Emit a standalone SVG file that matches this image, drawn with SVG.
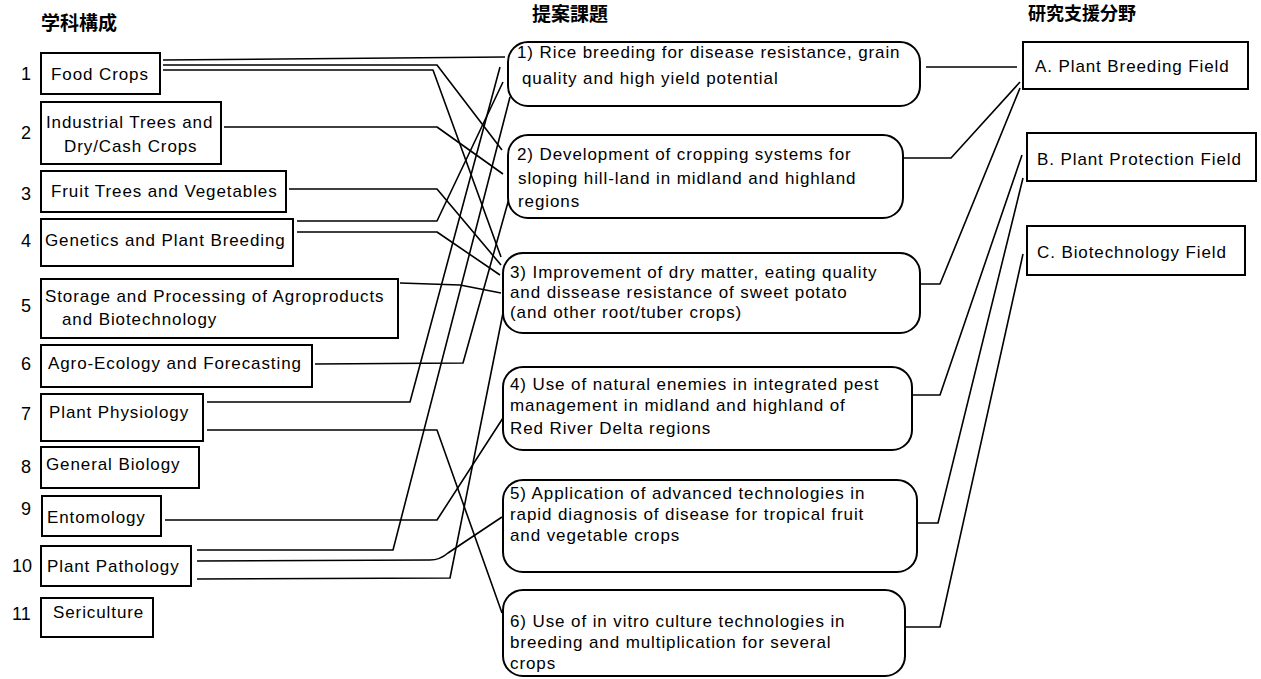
<svg xmlns="http://www.w3.org/2000/svg" width="1261" height="679" viewBox="0 0 1261 679">
<style>
.bg{fill:#fff}
.box{fill:#fff;stroke:#000;stroke-width:2}
.rbox{fill:#fff;stroke:#000;stroke-width:2}
.t{font-family:"Liberation Sans",Arial,sans-serif;font-size:17px;letter-spacing:0.9px;fill:#000}
.n{font-family:"Liberation Sans",Arial,sans-serif;font-size:18px;fill:#000}
.h{font-family:"Noto Sans CJK JP","Noto Sans CJK SC",sans-serif;font-size:19px;font-weight:bold;fill:#000}
.c{fill:none;stroke:#000;stroke-width:1.6;stroke-linejoin:round}
</style>
<rect class="bg" x="0" y="0" width="1261" height="679"/>

<g id="headers">
<text class="h" x="41" y="30">学科構成</text>
<text class="h" x="532" y="21">提案課題</text>
<text class="h" x="1028" y="20" style="font-size:18px">研究支援分野</text>
</g>

<g id="connectors">
<!-- left to middle -->
<polyline class="c" points="163,60 505,57"/>
<polyline class="c" points="163,65 437,65 502,150"/>
<polyline class="c" points="163,70 433,70 501,257"/>
<polyline class="c" points="224,127 437,127 503,174"/>
<polyline class="c" points="289,189 437,189 501,265"/>
<polyline class="c" points="297,221 437,221 503,82"/>
<polyline class="c" points="297,232 437,232 500,275"/>
<polyline class="c" points="400,283 460,285 501,293"/>
<polyline class="c" points="315,364 463,363 510,195"/>
<polyline class="c" points="207,402 410,402 500,67"/>
<polyline class="c" points="207,430 437,430 502,613"/>
<polyline class="c" points="165,520 437,520 503,418"/>
<polyline class="c" points="197,550 393,550 510,97"/>
<path class="c" d="M197,561 L430,560 Q440,560 448,553 L502,517"/>
<polyline class="c" points="197,579 450,578 503,313"/>
<!-- middle to right -->
<polyline class="c" points="926,67 1017,67"/>
<polyline class="c" points="904,158 951,158 1020,82"/>
<polyline class="c" points="921,284 940,284 1020,88"/>
<polyline class="c" points="913,395 940,395 1022,155"/>
<polyline class="c" points="918,523 938,523 1023,178"/>
<polyline class="c" points="906,627 940,627 1023,254"/>
</g>

<g id="d1"><text class="n" x="21" y="80">1</text><rect class="box" x="41" y="53" width="119" height="41"/><text class="t" x="51" y="80">Food Crops</text></g>
<g id="d2"><text class="n" x="21" y="139">2</text><rect class="box" x="41" y="102" width="180" height="62"/><text class="t" x="46" y="128">Industrial Trees and</text><text class="t" x="64" y="152">Dry/Cash Crops</text></g>
<g id="d3"><text class="n" x="21" y="200">3</text><rect class="box" x="41" y="171" width="245" height="41"/><text class="t" x="51" y="197">Fruit Trees and Vegetables</text></g>
<g id="d4"><text class="n" x="21" y="247">4</text><rect class="box" x="41" y="219" width="252" height="47"/><text class="t" x="45" y="246">Genetics and Plant Breeding</text></g>
<g id="d5"><text class="n" x="21" y="312">5</text><rect class="box" x="41" y="279" width="357" height="59"/><text class="t" x="45" y="302">Storage and Processing of Agroproducts</text><text class="t" x="62" y="325">and Biotechnology</text></g>
<g id="d6"><text class="n" x="21" y="370">6</text><rect class="box" x="41" y="345" width="271" height="42"/><text class="t" x="48" y="369">Agro-Ecology and Forecasting</text></g>
<g id="d7"><text class="n" x="21" y="420">7</text><rect class="box" x="41" y="394" width="162" height="47"/><text class="t" x="49" y="418">Plant Physiology</text></g>
<g id="d8"><text class="n" x="21" y="473">8</text><rect class="box" x="41" y="447" width="158" height="41"/><text class="t" x="46" y="470">General Biology</text></g>
<g id="d9"><text class="n" x="21" y="515">9</text><rect class="box" x="42" y="496" width="119" height="40"/><text class="t" x="47" y="523">Entomology</text></g>
<g id="d10"><text class="n" x="12" y="572">10</text><rect class="box" x="41" y="546" width="150" height="40"/><text class="t" x="47" y="572">Plant Pathology</text></g>
<g id="d11"><text class="n" x="12" y="620">11</text><rect class="box" x="41" y="598" width="112" height="39"/><text class="t" x="53" y="618">Sericulture</text></g>

<g id="p1"><rect class="rbox" x="508" y="42" width="412" height="64" rx="20" ry="20"/><text class="t" x="517" y="58">1) Rice breeding for disease resistance, grain</text><text class="t" x="522" y="84">quality and high yield potential</text></g>
<g id="p2"><rect class="rbox" x="508" y="135" width="395" height="83" rx="20" ry="20"/><text class="t" x="517" y="160">2) Development of cropping systems for</text><text class="t" x="518" y="184">sloping hill-land in midland and highland</text><text class="t" x="518" y="207">regions</text></g>
<g id="p3"><rect class="rbox" x="503" y="253" width="417" height="80" rx="20" ry="20"/><text class="t" x="510" y="278">3) Improvement of dry matter, eating quality</text><text class="t" x="510" y="298">and dissease resistance of sweet potato</text><text class="t" x="510" y="318">(and other root/tuber crops)</text></g>
<g id="p4"><rect class="rbox" x="503" y="367" width="409" height="83" rx="20" ry="20"/><text class="t" x="510" y="390">4) Use of natural enemies in integrated pest</text><text class="t" x="510" y="411">management in midland and highland  of</text><text class="t" x="510" y="434">Red River Delta regions</text></g>
<g id="p5"><rect class="rbox" x="503" y="480" width="414" height="92" rx="20" ry="20"/><text class="t" x="510" y="499">5) Application of advanced technologies in</text><text class="t" x="510" y="520">rapid diagnosis of disease for tropical fruit</text><text class="t" x="510" y="541">and vegetable crops</text></g>
<g id="p6"><rect class="rbox" x="503" y="590" width="402" height="86" rx="20" ry="20"/><text class="t" x="510" y="627">6) Use of in vitro culture technologies in</text><text class="t" x="510" y="648">breeding and multiplication for several</text><text class="t" x="510" y="669">crops</text></g>

<g id="fA"><rect class="box" x="1023" y="42" width="225" height="47"/><text class="t" x="1035" y="72">A. Plant Breeding Field</text></g>
<g id="fB"><rect class="box" x="1027" y="133" width="229" height="48"/><text class="t" x="1037" y="165">B. Plant Protection Field</text></g>
<g id="fC"><rect class="box" x="1027" y="226" width="218" height="49"/><text class="t" x="1037" y="258">C. Biotechnology Field</text></g>
</svg>
